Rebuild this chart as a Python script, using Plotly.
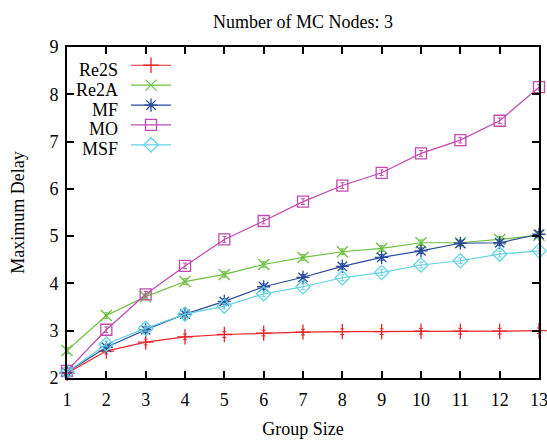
import plotly.graph_objects as go

group_size = list(range(1, 14))
re2s = [2.10, 2.57, 2.76, 2.87, 2.92, 2.95, 2.97, 2.98, 2.98, 2.99, 2.99, 2.99, 3.00]
re2a = [2.58, 3.32, 3.72, 4.04, 4.19, 4.40, 4.55, 4.67, 4.74, 4.86, 4.86, 4.93, 5.02]
mf   = [2.12, 2.65, 3.02, 3.35, 3.62, 3.93, 4.13, 4.36, 4.55, 4.69, 4.85, 4.86, 5.04]
mo   = [2.15, 3.02, 3.77, 4.37, 4.93, 5.32, 5.73, 6.07, 6.34, 6.75, 7.03, 7.44, 8.15]
msf  = [2.12, 2.72, 3.05, 3.35, 3.52, 3.78, 3.93, 4.12, 4.23, 4.39, 4.48, 4.62, 4.69]
err  = [0.06] * 13

series_names = ["Re2S", "Re2A", "MF", "MO", "MSF"]
series_values = [re2s, re2a, mf, mo, msf]
colors = ["#e8262c", "#6cc040", "#2a4b9c", "#c04aae", "#62d2e2"]
symbols = ["cross-thin-open", "x-thin-open", "asterisk-open", "square-open", "diamond-open"]

font = "'Liberation Serif', 'Times New Roman', serif"

fig = go.Figure()
for name, vals, color, sym in zip(series_names, series_values, colors, symbols):
    fig.add_trace(go.Scatter(
        x=group_size, y=vals, name=name, mode="lines+markers",
        line=dict(color=color, width=1.2),
        marker=dict(symbol=sym, size=11, color=color, line=dict(color=color, width=1.3)),
        error_y=dict(type="data", array=err, visible=True, color=color, thickness=1, width=2),
        cliponaxis=False,
    ))

# legend labels drawn to the left of the legend samples (right-aligned), as in the reference
row_step = 0.0595
for i, name in enumerate(series_names):
    fig.add_annotation(
        xref="paper", yref="paper", x=0.112, y=0.930 - i * row_step,
        text=name, showarrow=False, xanchor="right", yanchor="middle",
        font=dict(family=font, size=18, color="black"),
    )

fig.update_layout(
    width=547, height=441,
    margin=dict(l=67, r=8, t=47, b=63, autoexpand=False),
    paper_bgcolor="white", plot_bgcolor="white",
    font=dict(family=font, size=18, color="black"),
    title=dict(text="Number of MC Nodes: 3", xref="paper", x=0.5, xanchor="center",
               yref="container", y=0.951, yanchor="middle",
               font=dict(family=font, size=18)),
    legend=dict(x=0.125, y=0.99, xanchor="left", yanchor="top", bgcolor="rgba(0,0,0,0)",
                font=dict(family=font, size=13, color="rgba(0,0,0,0)"),
                tracegroupgap=0, itemwidth=40),
    showlegend=True,
)
fig.update_xaxes(
    range=[1, 13], tickmode="array", tickvals=group_size,
    ticks="inside", ticklen=7, tickwidth=1.5, tickcolor="black",
    showline=True, linecolor="black", linewidth=1.8, mirror="allticks",
    showgrid=False, zeroline=False, automargin=False, ticklabeloverflow="allow",
    ticklabelstandoff=4,
    title=dict(text="Group Size", font=dict(family=font, size=18), standoff=14),
    tickfont=dict(family=font, size=18),
)
fig.update_yaxes(
    range=[2, 9], tickmode="array", tickvals=list(range(2, 10)),
    ticks="inside", ticklen=7, tickwidth=1.5, tickcolor="black",
    showline=True, linecolor="black", linewidth=1.8, mirror="allticks",
    showgrid=False, zeroline=False, automargin=False, ticklabeloverflow="allow",
    ticklabelstandoff=3,
    title=dict(text="Maximum Delay", font=dict(family=font, size=18), standoff=20),
    tickfont=dict(family=font, size=18),
)
fig.write_html(
    "out.html",
    config={"displayModeBar": False},
    post_script="document.body.style.margin='0';document.documentElement.style.overflow='hidden';",
)
